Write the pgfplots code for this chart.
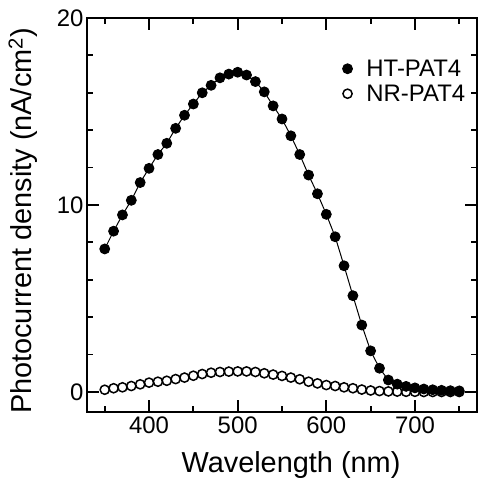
\documentclass[border=0pt]{standalone}
\usepackage{fontspec}
\setmainfont{Liberation Sans}
\usepackage{pgfplots}
\pgfplotsset{compat=1.18}
\begin{document}
\begin{tikzpicture}
\begin{axis}[
  name=ax,
  scale only axis,
  width=390bp, height=394bp,
  xmin=330, xmax=770, ymin=-1.07, ymax=20,
  xtick={400,500,600,700}, ytick={0,10,20},
  minor xtick={350,450,550,650,750},
  minor ytick={2,4,6,8,12,14,16,18},
  tick align=inside, tick pos=both,
  major tick length=12bp, minor tick length=6bp,
  axis line style={line width=2.2pt},
  tick style={line width=1.8pt, black},
  /pgf/number format/assume math mode=true,
  /pgf/number format/1000 sep={},
  tick label style={font=\fontsize{24}{26}\selectfont},
  xticklabel style={yshift=-1bp},
  xlabel={Wavelength (nm)},
  ylabel={Photocurrent density (nA/cm\textsuperscript{2})},
  label style={font=\fontsize{29}{31}\selectfont},
  xlabel style={at={(axis description cs:0.5,0)}, anchor=center, yshift=-53bp, xshift=9bp},
  ylabel style={at={(axis description cs:0,0.5)}, anchor=center, xshift=-6bp, yshift=64bp},
  legend style={draw=none, fill=none, inner sep=0pt, at={(axis description cs:0.655,0.897)}, anchor=north west,
    font=\fontsize{24}{26}\selectfont, row sep=5bp,
    nodes={inner sep=1bp},
    /tikz/every odd column/.append style={column sep=13bp}},
  legend cell align=left,
  legend image code/.code={\draw[#1, only marks] plot coordinates {(0.25cm,0cm)};},
]
\addplot[black, line width=1pt, mark=*, mark size=4.9bp, mark options={fill=black}] coordinates {
(350,7.65)(360,8.6)(370,9.47)(380,10.25)(390,11.2)(400,11.96)(410,12.7)(420,13.3)
(430,14.1)(440,14.8)(450,15.4)(460,16.0)(470,16.4)(480,16.8)(490,17.0)(500,17.1)
(510,16.95)(520,16.6)(530,16.05)(540,15.3)(550,14.6)(560,13.7)(570,12.7)(580,11.6)
(590,10.6)(600,9.5)(610,8.3)(620,6.75)(630,5.15)(640,3.58)(650,2.2)(660,1.27)
(670,0.64)(680,0.42)(690,0.3)(700,0.22)(710,0.16)(720,0.12)(730,0.09)(740,0.07)(750,0.06)
};
\addlegendentry{HT-PAT4}
\addplot[only marks, black, mark=o, mark size=4.6bp, mark options={line width=1.5pt, fill=white}] coordinates {
(350,0.12)(360,0.2)(370,0.25)(380,0.32)(390,0.41)(400,0.5)(410,0.55)(420,0.6)
(430,0.69)(440,0.77)(450,0.87)(460,0.96)(470,1.03)(480,1.07)(490,1.09)(500,1.1)
(510,1.1)(520,1.07)(530,1.0)(540,0.93)(550,0.86)(560,0.77)(570,0.68)(580,0.55)
(590,0.46)(600,0.37)(610,0.32)(620,0.25)(630,0.2)(640,0.13)(650,0.08)(660,0.05)
(670,0.03)(680,0.02)(690,0.01)(700,0.01)(710,0.0)(720,0.0)(730,0.0)(740,0.0)(750,0.0)
};
\addlegendentry{NR-PAT4}
\end{axis}
\pgfresetboundingbox
\path ([shift={(-87bp,-74bp)}]ax.south west) rectangle ([shift={(2bp,18bp)}]ax.north east);
\end{tikzpicture}
\end{document}
